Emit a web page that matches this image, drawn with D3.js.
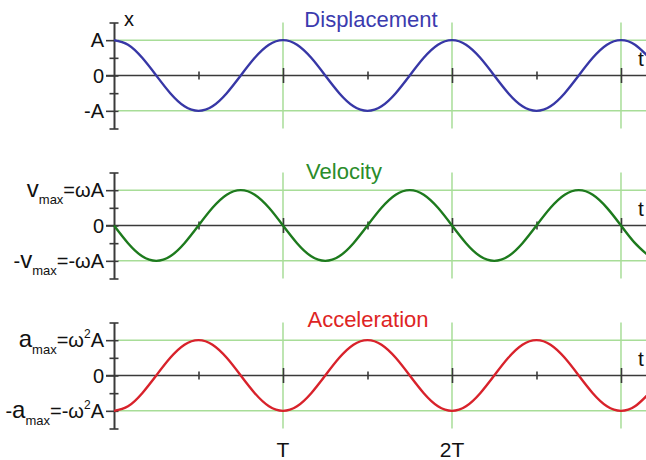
<!DOCTYPE html>
<html>
<head>
<meta charset="utf-8">
<script src="https://cdn.jsdelivr.net/npm/d3@7"></script>
<style>
  body { margin: 0; background: #fff; }
  svg { display: block; font-family: "Liberation Sans", Arial, sans-serif; }
</style>
</head>
<body>
<svg id="chart" width="646" height="460"></svg>
<script>
// time in periods (T), sampled every T/12, running just past the right edge
const timeSteps = [
  0, 0.083, 0.167, 0.25, 0.333, 0.417, 0.5, 0.583, 0.667, 0.75, 0.833, 0.917,
  1, 1.083, 1.167, 1.25, 1.333, 1.417, 1.5, 1.583, 1.667, 1.75, 1.833, 1.917,
  2, 2.083, 2.167, 2.25, 2.333, 2.417, 2.5, 2.583, 2.667, 2.75, 2.833, 2.917,
  3, 3.083, 3.167
];
// values in units of the amplitude
const displacement = [
  1, 0.87, 0.5, 0, -0.5, -0.87, -1, -0.87, -0.5, 0, 0.5, 0.87,
  1, 0.87, 0.5, 0, -0.5, -0.87, -1, -0.87, -0.5, 0, 0.5, 0.87,
  1, 0.87, 0.5, 0, -0.5, -0.87, -1, -0.87, -0.5, 0, 0.5, 0.87,
  1, 0.87, 0.5
];
const velocity = [
  0, -0.5, -0.87, -1, -0.87, -0.5, 0, 0.5, 0.87, 1, 0.87, 0.5,
  0, -0.5, -0.87, -1, -0.87, -0.5, 0, 0.5, 0.87, 1, 0.87, 0.5,
  0, -0.5, -0.87, -1, -0.87, -0.5, 0, 0.5, 0.87, 1, 0.87, 0.5,
  0, -0.5, -0.87
];
const acceleration = [
  -1, -0.87, -0.5, 0, 0.5, 0.87, 1, 0.87, 0.5, 0, -0.5, -0.87,
  -1, -0.87, -0.5, 0, 0.5, 0.87, 1, 0.87, 0.5, 0, -0.5, -0.87,
  -1, -0.87, -0.5, 0, 0.5, 0.87, 1, 0.87, 0.5, 0, -0.5, -0.87,
  -1, -0.87, -0.5
];

const titles = ['Displacement', 'Velocity', 'Acceleration'];
const yTicks = [-1.5, -1, -0.5, 0, 0.5, 1, 1.5];
const yMajorTicks = [-1, 0, 1];
const periodTicks = [1, 2, 3];
const halfPeriodTicks = [0.5, 1.5, 2.5];
const timeLabels = ['T', '2T'];

// label pieces: [text, kind]  kind: '' normal, 'big', 'sub', 'sup'
const displacementLabels = [
  [['A', '']],
  [['0', '']],
  [['-A', '']]
];
const velocityLabels = [
  [['v', 'big'], ['max', 'sub'], ['=ωA', '']],
  [['0', '']],
  [['-', ''], ['v', 'big'], ['max', 'sub'], ['=-ωA', '']]
];
const accelerationLabels = [
  [['a', 'big'], ['max', 'sub'], ['=ω', ''], ['2', 'sup'], ['A', '']],
  [['0', '']],
  [['-', ''], ['a', 'big'], ['max', 'sub'], ['=-ω', ''], ['2', 'sup'], ['A', '']]
];

const svg = d3.select('#chart');
const W = 646;
const axisX = 114;

const x = d3.scaleLinear().domain([0, 3.148]).range([axisX, W]);

const panels = [
  { values: displacement, labels: displacementLabels, color: '#3737a6', titleColor: '#3b3bae', titleX: 371, yLabel: 'x' },
  { values: velocity, labels: velocityLabels, color: '#1d7a1d', titleColor: '#2a8c2a', titleX: 344 },
  { values: acceleration, labels: accelerationLabels, color: '#d8222b', titleColor: '#de2424', titleX: 368 }
];

const gridColor = '#a8dd98';
const axisColor = '#3a3a3a';

panels.forEach((p, i) => {
  const oy = i * 150;
  const y = d3.scaleLinear().domain([-1.5, 1.5]).range([128.5 + oy, 22.5 + oy]);
  const g = svg.append('g').attr('class', 'panel-' + i);

  // grid lines at +-amplitude and at whole periods
  g.selectAll('.hgrid')
    .data([1, -1])
    .enter()
    .append('line')
    .attr('x1', axisX + 4)
    .attr('x2', W)
    .attr('y1', (d) => y(d))
    .attr('y2', (d) => y(d))
    .attr('stroke', gridColor)
    .attr('stroke-width', 1.5);

  g.selectAll('.vgrid')
    .data(periodTicks)
    .enter()
    .append('line')
    .attr('x1', (d) => x(d))
    .attr('x2', (d) => x(d))
    .attr('y1', y(1.5))
    .attr('y2', y(-1.5))
    .attr('stroke', gridColor)
    .attr('stroke-width', 1.5);

  // time axis through zero
  g.append('line')
    .attr('x1', axisX - 8)
    .attr('x2', W)
    .attr('y1', y(0))
    .attr('y2', y(0))
    .attr('stroke', axisColor)
    .attr('stroke-width', 1.6);

  const tAxis = g.append('g')
    .attr('transform', `translate(0,${y(0)})`)
    .call(d3.axisBottom(x).tickValues(halfPeriodTicks.concat(periodTicks)).tickFormat(''));
  tAxis.select('.domain').remove();
  tAxis.selectAll('.tick line')
    .attr('stroke', axisColor)
    .attr('stroke-width', 1.6)
    .attr('y1', (d) => (periodTicks.includes(d) ? -7.5 : -4))
    .attr('y2', (d) => (periodTicks.includes(d) ? 7.5 : 4));

  // vertical axis
  const vAxis = g.append('g')
    .attr('transform', `translate(${axisX},0)`)
    .call(d3.axisLeft(y).tickValues(yTicks).tickFormat('').tickSizeOuter(0));
  vAxis.select('.domain').attr('stroke', axisColor).attr('stroke-width', 2);
  vAxis.selectAll('.tick line')
    .attr('stroke', axisColor)
    .attr('stroke-width', 1.6)
    .attr('x1', (d) => (yMajorTicks.includes(d) ? -8 : -4.5))
    .attr('x2', 4.5);

  // curve
  const line = d3.line()
    .x((d, k) => x(timeSteps[k]))
    .y((d) => y(d))
    .curve(d3.curveNatural);

  g.append('path')
    .attr('d', line(p.values))
    .attr('fill', 'none')
    .attr('stroke', p.color)
    .attr('stroke-width', 2.4);

  // value labels
  yMajorTicks.slice().reverse().forEach((v, k) => {
    const txt = g.append('text')
      .attr('x', 104)
      .attr('y', y(v) + 7)
      .attr('text-anchor', 'end')
      .attr('font-size', 20)
      .attr('fill', '#111');
    let shift = 0;
    p.labels[k].forEach(([s, kind]) => {
      let size = 20;
      let dy = 0;
      if (kind === 'big') size = 24;
      if (kind === 'sub') { size = 13; dy = 7; }
      if (kind === 'sup') { size = 12; dy = -9; }
      txt.append('tspan')
        .attr('font-size', size)
        .attr('dy', dy - shift)
        .text(s);
      shift = dy;
    });
  });

  // title
  g.append('text')
    .attr('x', p.titleX)
    .attr('y', 27 + oy + (i === 1 ? 2 : 0))
    .attr('text-anchor', 'middle')
    .attr('font-size', 22)
    .attr('fill', p.titleColor)
    .text(titles[i]);

  // axis letters
  g.append('text')
    .attr('x', 638)
    .attr('y', y(0) - 10)
    .attr('font-size', 21)
    .attr('fill', '#111')
    .text('t');

  if (p.yLabel) {
    g.append('text')
      .attr('x', 124)
      .attr('y', 26 + oy)
      .attr('font-size', 20)
      .attr('fill', '#111')
      .text(p.yLabel);
  }
});

// period labels under the last panel
svg.selectAll('.tlabel')
  .data(timeLabels)
  .enter()
  .append('text')
  .attr('x', (d, k) => x(periodTicks[k]))
  .attr('y', 457)
  .attr('text-anchor', 'middle')
  .attr('font-size', 21)
  .attr('fill', '#111')
  .text((d) => d);
</script>
</body>
</html>
